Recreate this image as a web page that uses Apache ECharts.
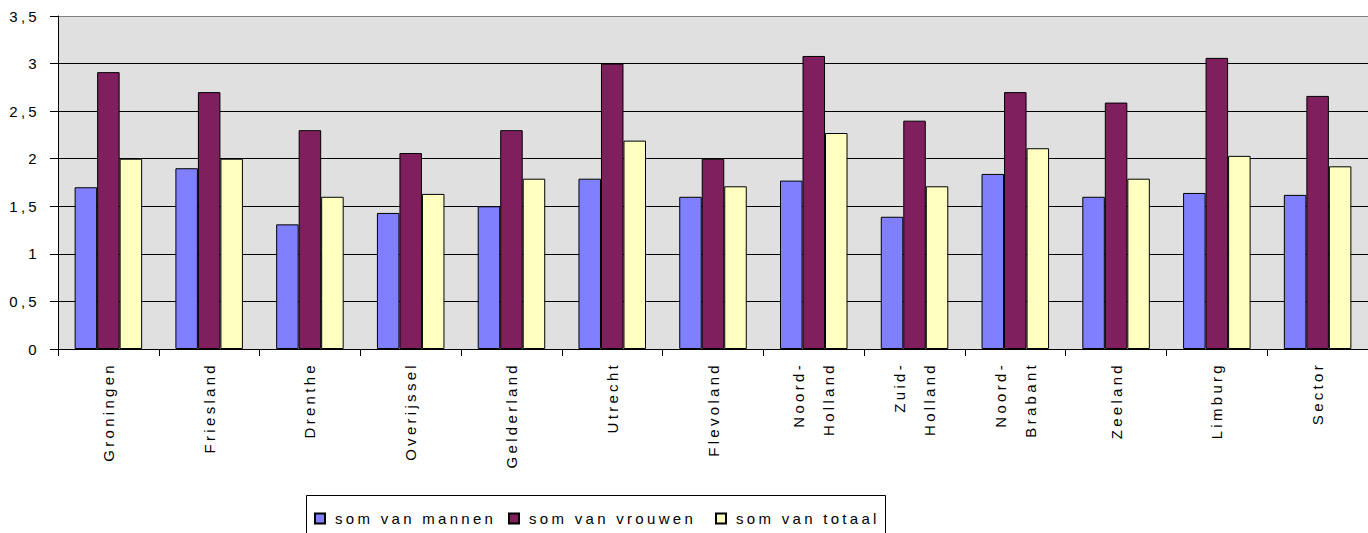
<!DOCTYPE html>
<html>
<head>
<meta charset="utf-8">
<script src="https://cdn.jsdelivr.net/npm/echarts@6/dist/echarts.min.js"></script>
<style>
  html, body { margin: 0; padding: 0; background: #fff; }
  #chart { width: 1368px; height: 533px; }
  #chart svg text { letter-spacing: 3.3px; }
</style>
</head>
<body>
<div id="chart"></div>
<script>
const categories = ['Groningen', 'Friesland', 'Drenthe', 'Overijssel', 'Gelderland', 'Utrecht', 'Flevoland',
  'Noord-\nHolland', 'Zuid-\nHolland', 'Noord-\nBrabant', 'Zeeland', 'Limburg', 'Sector'];
const seriesNames = ['som van mannen', 'som van vrouwen', 'som van totaal'];
const mannen  = [1.70, 1.90, 1.31, 1.43, 1.50, 1.79, 1.60, 1.77, 1.39, 1.84, 1.60, 1.64, 1.62];
const vrouwen = [2.91, 2.70, 2.30, 2.06, 2.30, 3.00, 2.00, 3.08, 2.40, 2.70, 2.59, 3.06, 2.66];
const totaal  = [2.00, 2.00, 1.60, 1.63, 1.79, 2.19, 1.71, 2.27, 1.71, 2.11, 1.79, 2.03, 1.92];
const yTickLabels = ['0', '0,5', '1', '1,5', '2', '2,5', '3', '3,5'];

const FONT = "'Liberation Sans', Arial, sans-serif";
const colors = ['#8080FF', '#801F5E', '#FFFFC0'];
const legendLefts = [314, 508, 715];

const chart = echarts.init(document.getElementById('chart'), null, { renderer: 'svg' });
chart.setOption({
  animation: false,
  textStyle: { fontFamily: FONT },
  grid: {
    left: 58, right: 0, top: 16, bottom: 184,
    show: true, backgroundColor: '#E0E0E0', borderWidth: 0
  },
  graphic: [{
    type: 'rect', left: 306, top: 495, z: 0,
    shape: { width: 579, height: 60 },
    style: { fill: '#fff', stroke: '#000', lineWidth: 1 }
  }],
  legend: seriesNames.map((n, i) => ({
    left: legendLefts[i], top: 511,
    icon: 'rect',
    itemWidth: 10, itemHeight: 10, itemGap: 0,
    padding: 0, z: 5,
    textStyle: { fontFamily: FONT, fontSize: 15, color: '#000', padding: [0, 0, 0, 5] },
    data: [n]
  })),
  xAxis: {
    type: 'category',
    data: categories,
    axisLine: { lineStyle: { color: '#000', width: 1 } },
    axisTick: { show: true, interval: 0, length: 7, lineStyle: { color: '#000', width: 1 } },
    axisLabel: {
      interval: 0, rotate: 90, margin: 13,
      fontFamily: FONT, fontSize: 15, color: '#000', lineHeight: 30
    },
    splitLine: { show: false }
  },
  yAxis: {
    type: 'value',
    min: 0, max: 3.5, interval: 0.5,
    axisLine: { show: true, lineStyle: { color: '#000', width: 1 } },
    axisTick: { show: true, length: 8, lineStyle: { color: '#000', width: 1 } },
    axisLabel: {
      margin: 18, fontFamily: FONT, fontSize: 15, color: '#000',
      formatter: v => yTickLabels[Math.round(v / 0.5)]
    },
    splitLine: {
      show: true,
      lineStyle: { color: ['#000', '#000', '#000', '#000', '#000', '#000', '#000', '#808080'], width: 1 }
    }
  },
  series: [mannen, vrouwen, totaal].map((d, i) => ({
    name: seriesNames[i],
    type: 'bar',
    data: d,
    barGap: '0%',
    barCategoryGap: '33%',
    itemStyle: { color: colors[i], borderColor: '#000', borderWidth: 1 }
  }))
});
</script>
</body>
</html>
